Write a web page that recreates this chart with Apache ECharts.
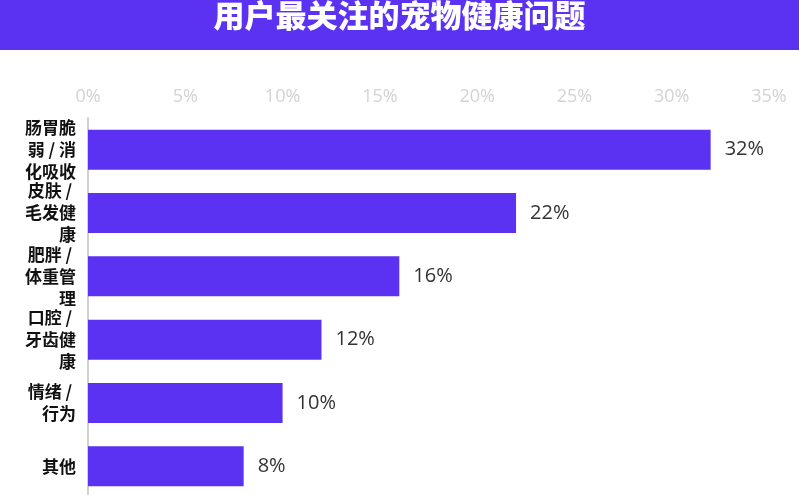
<!DOCTYPE html>
<html>
<head>
<meta charset="utf-8">
<script src="https://cdn.jsdelivr.net/npm/echarts@6/dist/echarts.min.js"></script>
<style>
html,body{margin:0;padding:0;background:#fff;}
#c{width:799px;height:495px;}
</style>
</head>
<body>
<div id="c"></div>
<script>
const titleText = '用户最关注的宠物健康问题';
const categories = ['肠胃脆弱 / 消化吸收', '皮肤 / 毛发健康', '肥胖 / 体重管理', '口腔 / 牙齿健康', '情绪 / 行为', '其他'];
const values = [32, 22, 16, 12, 10, 8];
const xTicks = [0, 5, 10, 15, 20, 25, 30, 35];

const chart = echarts.init(document.getElementById('c'));
chart.setOption({
  animation: false,
  backgroundColor: '#fff',
  graphic: [
    { type: 'rect', left: 0, top: 0, shape: { width: 799, height: 50 }, style: { fill: '#5B31F2' } },
    { type: 'text', left: 'center', top: 0, style: { text: titleText, fill: '#fff', font: '900 31px "Noto Sans CJK SC"' } }
  ],
  grid: { left: 88, right: 30, top: 118, bottom: -3, outerBoundsMode: 'none', containLabel: false },
  xAxis: {
    type: 'value',
    position: 'top',
    min: xTicks[0],
    max: xTicks[xTicks.length - 1],
    interval: 5,
    axisLine: { show: false },
    axisTick: { show: false },
    splitLine: { show: false },
    axisLabel: { formatter: v => v + '%', color: '#d3d3d3', fontSize: 18, fontFamily: 'Open Sans', margin: 12, hideOverlap: false }
  },
  yAxis: {
    type: 'category',
    inverse: true,
    data: categories,
    axisLine: { show: true, lineStyle: { color: '#d0d0d0', width: 2 } },
    axisTick: { show: false },
    axisLabel: {
      interval: 0, hideOverlap: false,
      color: '#111', fontSize: 17, fontWeight: 'bold', fontFamily: 'Noto Sans CJK SC',
      width: 57, overflow: 'break', lineHeight: 22, margin: 12, align: 'right'
    }
  },
  series: [{
    type: 'bar',
    data: values,
    barWidth: 40,
    itemStyle: { color: '#5B31F2' },
    label: { show: true, position: 'right', distance: 14, formatter: p => p.value + '%', color: '#333', fontSize: 20, fontFamily: 'Open Sans' }
  }]
});
</script>
</body>
</html>
